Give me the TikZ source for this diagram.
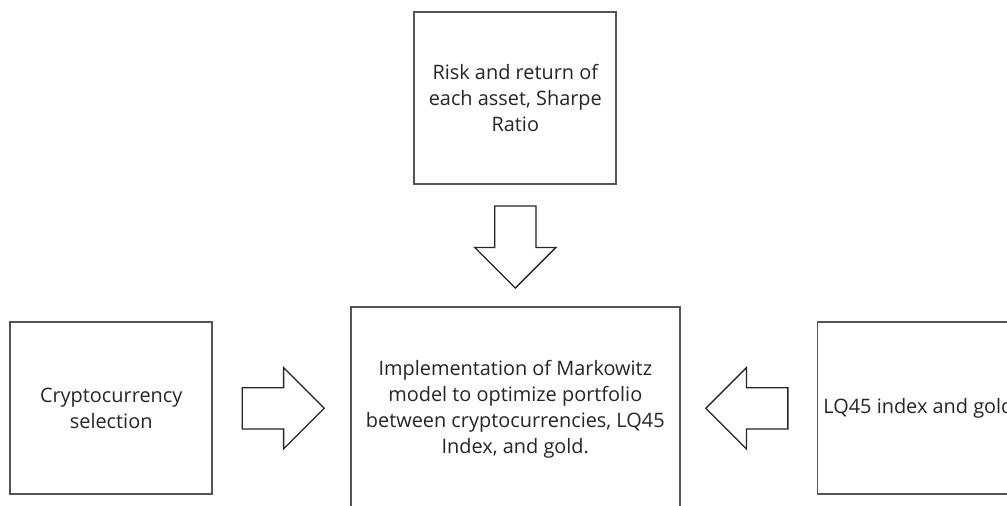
\documentclass[tikz,border=0pt]{standalone}
\usepackage{fontspec}
\setmainfont{Open Sans}
\usetikzlibrary{shapes.arrows,calc}
\definecolor{boxline}{HTML}{555555}
\definecolor{ink}{HTML}{262626}
\tikzset{
  stage/.style={draw=boxline, line width=1.8pt, fill=white, text=ink,
    align=center, inner sep=0pt, font=\fontsize{19.9}{26}\selectfont},
  blockarrow/.style={single arrow, draw=ink, line width=1.3pt, fill=white,
    minimum height=82pt, minimum width=80pt, inner xsep=0pt, inner ysep=20pt,
    single arrow head extend=20pt, single arrow tip angle=90, anchor=tail}
}
\begin{document}
\begin{tikzpicture}[x=1pt, y=-1pt]
  \useasboundingbox (0,0) rectangle (1007,506);
  \clip (0,0) rectangle (1007,506);

  % input and output stages
  \node[stage, minimum width=202pt, minimum height=172pt] (risk) at (515.3,98.2)
    {Risk and return of\\each asset, Sharpe\\Ratio};
  \node[stage, minimum width=202pt, minimum height=172pt] (crypto) at (111.2,408.3)
    {Cryptocurrency\\selection};
  \node[stage, minimum width=329pt, minimum height=204pt] (markowitz) at (515.3,408.8)
    {Implementation of Markowitz\\model to optimize portfolio\\between cryptocurrencies, LQ45\\Index, and gold.};
  \node[stage, minimum width=202pt, minimum height=172pt] (lq) at (918.4,408.3)
    {LQ45 index and gold};

  % block arrows feeding the optimisation stage
  \node[blockarrow, rotate=-90] (a1) at ($(risk.south)+(0,20.3)$) {};
  \node[blockarrow] (a2) at ($(crypto.east)+(28.5,0)$) {};
  \node[blockarrow, rotate=180] (a3) at ($(lq.west)+(-28,0)$) {};
\end{tikzpicture}
\end{document}
